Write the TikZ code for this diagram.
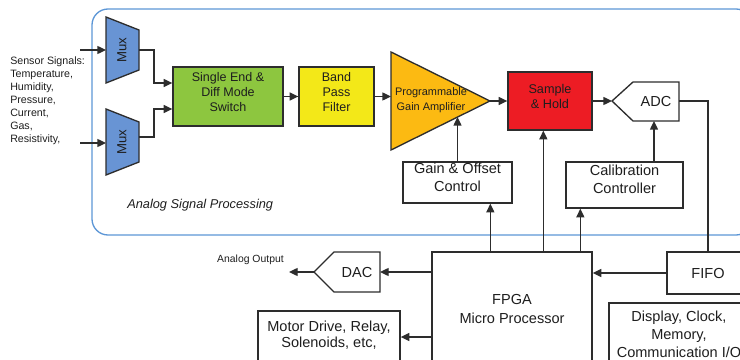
\documentclass[tikz,border=0pt]{standalone}
\usepackage{fontspec}
\setmainfont{Liberation Sans}
\usetikzlibrary{arrows.meta,fit,calc}

\definecolor{frameblue}{RGB}{92,150,214}
\definecolor{muxblue}{RGB}{104,148,212}
\definecolor{swgreen}{RGB}{141,198,63}
\definecolor{bpfyellow}{RGB}{243,232,24}
\definecolor{pgaorange}{RGB}{252,186,18}
\definecolor{shred}{RGB}{237,28,36}
\definecolor{linec}{RGB}{45,45,45}
\definecolor{textc}{RGB}{30,30,30}

\begin{document}
\begin{tikzpicture}[x=0.75pt,y=-0.75pt,
  line/.style={draw=linec, line width=1pt},
  arr/.style={line, -{Triangle[length=6.5pt,width=6pt]}},
  box/.style={draw=linec, line width=1pt, inner sep=0pt, fill=white, text=textc, align=center,
              font=\fontsize{10.9}{13.5}\selectfont},
  colbox/.style={box, font=\fontsize{9.4}{11.25}\selectfont},
  shapeline/.style={draw=linec, line width=1pt},
  txt/.style={text=textc, align=center, inner sep=0pt, font=\fontsize{10.9}{13.5}\selectfont},
  frame/.style={draw=frameblue, line width=1pt, rounded corners=12pt}]

\useasboundingbox (0,0) rectangle (740,360);
\clip (0,0) rectangle (740,360);

% analog signal processing frame
\draw[frame] (92,9) rectangle (752,235);
\node[text=textc, inner sep=0pt, anchor=west, font=\itshape\fontsize{9.6}{11}\selectfont] (asp) at (127,205) {Analog Signal Processing};

% sensor inputs
\node[text=textc, anchor=north west, align=left, inner sep=0pt, font=\fontsize{8}{9.75}\selectfont] (sens) at (10,57)
  {Sensor Signals:\\Temperature,\\Humidity,\\Pressure,\\Current,\\Gas,\\Resistivity,};

% multiplexers
\filldraw[shapeline, fill=muxblue] (106,17) -- (139,30) -- (139,70) -- (106,83) -- cycle;
\filldraw[shapeline, fill=muxblue] (106,109) -- (139,122) -- (139,162) -- (106,175) -- cycle;
\node[rotate=90, text=textc, inner sep=0pt, font=\fontsize{9.9}{11}\selectfont] (mux1) at (122,50) {Mux};
\node[rotate=90, text=textc, inner sep=0pt, font=\fontsize{9.9}{11}\selectfont] (mux2) at (122,142) {Mux};
\coordinate (in1) at (80,50);   \coordinate (m1in) at (106,50);  \coordinate (m1out) at (139,50);
\coordinate (in2) at (80,143);  \coordinate (m2in) at (106,143); \coordinate (m2out) at (139,137);

% signal chain blocks
\node[colbox, fill=swgreen, fit={(173,67)(283,126)}] (sw) {Single End \&\\Diff Mode\\Switch};
\node[colbox, fill=bpfyellow, fit={(299,67)(374,126)}] (bpf) {Band\\Pass\\Filter};

\filldraw[shapeline, fill=pgaorange] (391,52) -- (490,101) -- (391,150) -- cycle;
\node[txt, font=\fontsize{8.2}{11.25}\selectfont] (pga) at (431,100) {Programmable\\Gain Amplifier};
\coordinate (pgaIn) at (391,96.5); \coordinate (pgaTip) at (490,101); \coordinate (pgaBot) at (457.5,117);

\node[colbox, fill=shred, fit={(508,72)(592,130)}, font=\fontsize{9.5}{11.25}\selectfont] (sh) {Sample\\\& Hold};

\filldraw[shapeline, fill=white] (612,101) -- (633,82) -- (679,82) -- (679,121) -- (633,121) -- cycle;
\node[txt] (adc) at (656,101.5) {ADC};
\coordinate (adcTip) at (612,101); \coordinate (adcR) at (679,101); \coordinate (adcBot) at (654,121);

% control blocks
\node[box, fit={(403,162)(512,203)}] (gain) {Gain \& Offset\\Control};
\node[box, fit={(566,162)(683,208)}] (cal) {Calibration\\Controller};

% digital side
\node[box, fit={(432,252)(592,400)}] (fpga) {};
\node[txt, font=\fontsize{10.9}{14.25}\selectfont] (fpgalbl) at (512,308.5) {FPGA\\Micro Processor};

\node[box, fit={(667,252)(780,294)}] (fifo) {};
\node[txt] (fifolbl) at (708,273) {FIFO};

\node[box, fit={(609,303)(780,400)}] (disp) {};
\node[txt] (displbl) at (679,334) {Display, Clock,\\Memory,\\Communication I/O};

\node[box, fit={(258,311)(400,400)}] (motor) {};
\node[txt, font=\fontsize{10.9}{12}\selectfont] (motorlbl) at (329,335) {Motor Drive, Relay,\\Solenoids, etc,};

\filldraw[shapeline, fill=white] (314,272) -- (334,252) -- (380,252) -- (380,292) -- (334,292) -- cycle;
\node[txt] (dac) at (357,272) {DAC};
\coordinate (dacTip) at (314,272); \coordinate (dacE) at (380,272); \coordinate (aout) at (289,272);
\node[text=textc, inner sep=0pt, anchor=east, font=\fontsize{7.8}{9}\selectfont] (aoutlbl) at (284,260) {Analog Output};

% connectors
\draw[arr] (in1) -- (m1in);
\draw[arr] (in2) -- (m2in);
\draw[arr] (m1out) -- ++(15,0) |- ($(sw.west)+(0,-13.5)$);
\draw[arr] (m2out) -- ++(15,0) |- ($(sw.west)+(0,12.5)$);
\draw[arr] (sw.east) -- (bpf.west);
\draw[arr] (bpf.east) -- (pgaIn);
\draw[arr] (pgaTip) -- (sh.west);
\draw[arr] (sh.east) -- (adcTip);
\draw[line] (adcR) -| (fifo.north -| fifolbl);
\draw[arr] (gain.north) -- (pgaBot);
\draw[arr] (cal.north -| adcBot) -- (adcBot);

\path ($(fpga.north west)+(59,0)$) coordinate (fp1)
      ($(fpga.north west)+(112,0)$) coordinate (fp2)
      ($(fpga.north west)+(149,0)$) coordinate (fp3);
\draw[arr] (fp1) -- (fp1 |- gain.south);
\draw[arr] (fp2) -- (fp2 |- sh.south);
\draw[arr] (fp3) -- (fp3 |- cal.south);

\draw[arr] (fifo.west |- fifolbl) -- (fpga.east |- fifolbl);
\draw[arr] (fpga.west |- dacE) -- (dacE);
\draw[arr] (dacTip) -- (aout);
\draw[arr] ($(fpga.west |- motorlbl)+(0,2)$) -- ($(motor.east |- motorlbl)+(0,2)$);

\end{tikzpicture}
\end{document}
